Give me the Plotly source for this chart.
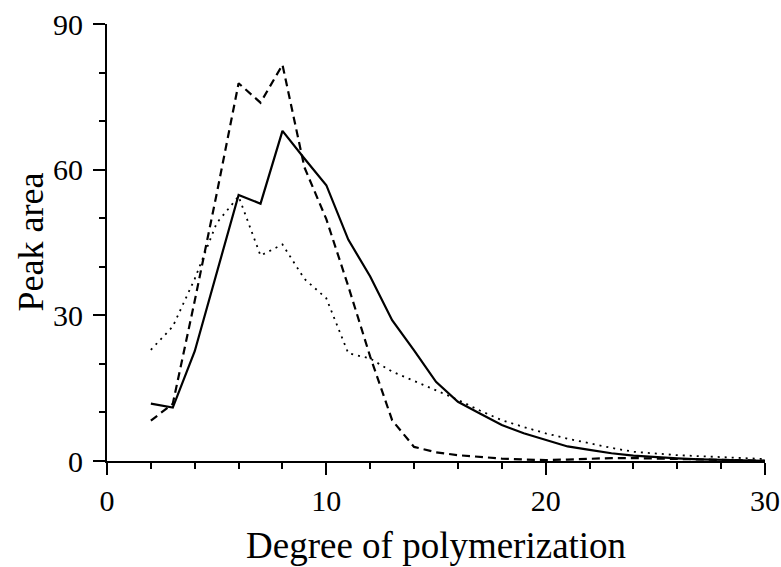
import plotly.graph_objects as go

dp = list(range(2, 31))

series_solid = [11.8, 11.0, 22.6, 38.8, 54.8, 53.0, 68.0, 62.3, 56.8, 45.6,
                38.0, 29.0, 22.8, 16.3, 12.2, 9.8, 7.4, 5.7, 4.3, 3.0,
                2.3, 1.6, 1.1, 0.75, 0.55, 0.35, 0.2, 0.1, 0.05]
series_dashed = [8.3, 11.8, 33.0, 55.0, 77.8, 73.8, 81.6, 60.5, 49.8, 36.0,
                 21.5, 8.4, 2.9, 1.8, 1.2, 0.8, 0.5, 0.3, 0.2, 0.3,
                 0.5, 0.6, 0.6, 0.5, 0.4, 0.3, 0.2, 0.1, 0.05]
series_dotted = [22.9, 27.7, 37.5, 49.0, 54.5, 42.3, 44.6, 37.5, 33.5, 22.2,
                 21.1, 18.4, 16.5, 14.6, 12.6, 10.4, 8.4, 7.0, 5.7, 4.6,
                 3.6, 2.7, 1.9, 1.5, 1.2, 1.0, 0.8, 0.6, 0.4]

x_ticks = [0, 10, 20, 30]
y_ticks = [0, 30, 60, 90]
x_title = "Degree of polymerization"
y_title = "Peak area"

fig = go.Figure()
fig.add_trace(go.Scatter(x=dp, y=series_dotted, mode="lines",
                         line=dict(color="black", width=1.8, dash="2px,5px")))
fig.add_trace(go.Scatter(x=dp, y=series_dashed, mode="lines",
                         line=dict(color="black", width=2.2, dash="8px,5px")))
fig.add_trace(go.Scatter(x=dp, y=series_solid, mode="lines",
                         line=dict(color="black", width=2.2)))

font = "Liberation Serif, Times New Roman, serif"
fig.update_layout(
    width=781, height=567,
    margin=dict(l=107, r=16, t=24, b=106),
    paper_bgcolor="white", plot_bgcolor="white",
    showlegend=False,
    font=dict(family=font, color="black", size=30),
)
fig.update_xaxes(
    range=[0, 30], tickvals=x_ticks, ticktext=[str(v) for v in x_ticks],
    ticks="outside", ticklen=12, tickwidth=2, tickcolor="black",
    minor=dict(dtick=2, tick0=0, ticks="outside", ticklen=6, tickwidth=2, tickcolor="black"),
    showline=True, linewidth=2, linecolor="black", showgrid=False, zeroline=False,
    tickfont=dict(size=30, family=font), automargin=False,
)
fig.update_yaxes(
    range=[0, 90], tickvals=y_ticks, ticktext=[str(v) for v in y_ticks],
    ticks="outside", ticklen=12, tickwidth=2, tickcolor="black",
    minor=dict(dtick=10, tick0=0, ticks="outside", ticklen=6, tickwidth=2, tickcolor="black"),
    showline=True, linewidth=2, linecolor="black", showgrid=False, zeroline=False,
    tickfont=dict(size=30, family=font), automargin=False, ticklabelstandoff=4,
)
fig.add_annotation(text=x_title, xref="paper", yref="paper", x=0.5, y=-0.1945,
                   xanchor="center", yanchor="middle", showarrow=False,
                   font=dict(size=37, family=font, color="black"))
fig.add_annotation(text=y_title, xref="paper", yref="paper", x=-0.117, y=0.5,
                   xanchor="center", yanchor="middle", showarrow=False, textangle=-90,
                   font=dict(size=36, family=font, color="black"))

fig.write_html("out.html", config={"displayModeBar": False},
               post_script="document.body.style.margin='0';document.body.style.overflow='hidden';")
